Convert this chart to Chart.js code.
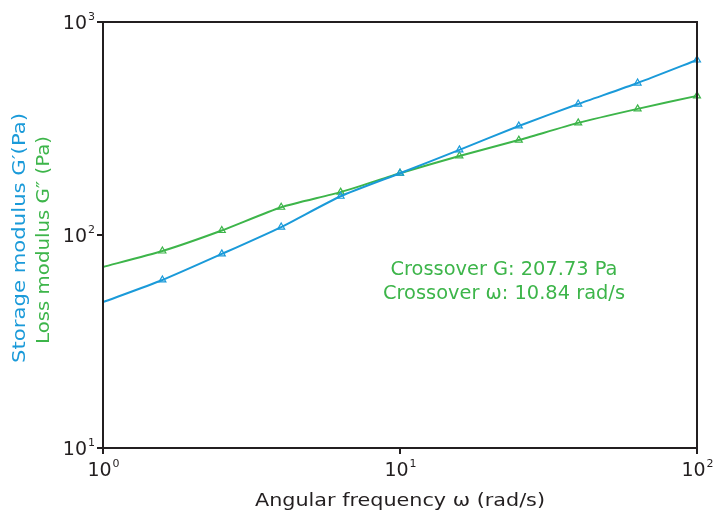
<!DOCTYPE html>
<html lang="en">
<head>
<meta charset="UTF-8">
<title>Frequency sweep</title>
<script src="https://cdn.jsdelivr.net/npm/chart.js@4/dist/chart.umd.min.js"></script>
<style>
  body { margin: 0; background: #fff; }
  canvas { display: block; }
</style>
</head>
<body>
<canvas id="sweep" width="715" height="512"></canvas>
<script>
    // angular frequency (rad/s), moduli (Pa)
    const omega = [1, 1.585, 2.512, 3.981, 6.31, 10, 15.85, 25.12, 39.81, 63.1, 100]
    const storageG = [48.4, 61.5, 81.5, 109, 152, 195, 251, 325, 412, 517, 663]
    const lossG = [70.8, 84.1, 105, 135, 159, 195, 235, 279, 336, 391, 450]
    const xTicks = [1, 10, 100]
    const yTicks = [10, 100, 1000]
    const crossoverText = ["Crossover G: 207.73 Pa", "Crossover \u03c9: 10.84 rad/s"]

    const blue = "#1a9ad9"
    const green = "#3db54a"
    const ink = "#231f20"
    const font = "'DejaVu Sans', 'Liberation Sans', sans-serif"

    // first point sits on the axis without a marker
    const radii = omega.map((w, i) => i === 0 ? 0 : 4)

    function series(label, vals, color) {
        return {
            label: label,
            data: omega.map((w, i) => ({x: w, y: vals[i]})),
            borderColor: color,
            borderWidth: 2,
            backgroundColor: "rgba(0,0,0,0)",
            pointStyle: "triangle",
            pointRadius: radii,
            pointBorderWidth: 1.2,
            pointBorderColor: color,
            tension: 0.2,
            clip: false
        }
    }

    // the original face is a wide geometric one, so stretch text to its measured width
    function fitText(ctx, text, x, y, width, size) {
        ctx.font = size + "px " + font
        let w = ctx.measureText(text).width
        ctx.save()
        ctx.translate(x, y)
        ctx.scale(width / w, 1)
        ctx.textAlign = "center"
        ctx.textBaseline = "middle"
        ctx.fillText(text, 0, 0)
        ctx.restore()
    }

    function drawPow(ctx, base, exp, x, y, align) {
        ctx.font = "19px " + font
        let bw = ctx.measureText(base).width
        ctx.font = "11px " + font
        let ew = ctx.measureText(exp).width
        let left = align === "right" ? x - bw - ew - 1 : x - (bw + ew) / 2
        ctx.textAlign = "left"
        ctx.textBaseline = "middle"
        ctx.font = "19px " + font
        ctx.fillText(base, left, y)
        ctx.font = "11px " + font
        ctx.fillText(exp, left + bw + 1, y - 7)
    }

    const decor = {
        id: "decor",
        afterDraw(chart) {
            let ctx = chart.ctx
            let a = chart.chartArea
            let xs = chart.scales.x, ys = chart.scales.y
            ctx.save()
            // box frame
            ctx.strokeStyle = ink
            ctx.lineWidth = 2
            ctx.strokeRect(a.left, a.top, a.right - a.left, a.bottom - a.top)

            // tick labels
            ctx.fillStyle = ink
            yTicks.forEach(v => {
                drawPow(ctx, "10", String(Math.round(Math.log10(v))), a.left - 8, ys.getPixelForValue(v) + 2, "right")
            })
            xTicks.forEach(v => {
                drawPow(ctx, "10", String(Math.round(Math.log10(v))), xs.getPixelForValue(v), a.bottom + 23, "center")
            })

            // axis titles
            fitText(ctx, "Angular frequency \u03c9 (rad/s)", 400, 501, 290, 18)

            ctx.save()
            ctx.translate(20, 238)
            ctx.rotate(-Math.PI / 2)
            ctx.fillStyle = blue
            fitText(ctx, "Storage modulus G\u2032(Pa)", 0, 0, 250, 18)
            ctx.restore()
            ctx.save()
            ctx.translate(44, 240)
            ctx.rotate(-Math.PI / 2)
            ctx.fillStyle = green
            fitText(ctx, "Loss modulus G\u2033 (Pa)", 0, 0, 208, 18)
            ctx.restore()

            // crossover note
            ctx.fillStyle = green
            fitText(ctx, crossoverText[0], 504, 270, 227, 19)
            fitText(ctx, crossoverText[1], 504, 294, 242, 19)
            ctx.restore()
        }
    }

    function onlyMajor(list) {
        return scale => { scale.ticks = list.map(v => ({value: v, major: true})) }
    }

    new Chart("sweep", {
        type: "line",
        data: {
            datasets: [
                series("Storage modulus G'", storageG, blue),
                series("Loss modulus G''", lossG, green)
            ]
        },
        options: {
            responsive: false,
            animation: false,
            layout: {padding: {top: 22, right: 18, left: 0, bottom: 0}},
            plugins: {legend: {display: false}, tooltip: {enabled: false}},
            scales: {
                x: {
                    type: "logarithmic",
                    min: 1, max: 100,
                    afterBuildTicks: onlyMajor(xTicks),
                    afterFit: s => { s.height = 64 },
                    ticks: {display: false},
                    grid: {drawOnChartArea: false, tickLength: 6, color: ink, lineWidth: 2},
                    border: {display: false}
                },
                y: {
                    type: "logarithmic",
                    min: 10, max: 1000,
                    afterBuildTicks: onlyMajor(yTicks),
                    afterFit: s => { s.width = 103 },
                    ticks: {display: false},
                    grid: {drawOnChartArea: false, tickLength: 6, color: ink, lineWidth: 2},
                    border: {display: false}
                }
            }
        },
        plugins: [decor]
    })
</script>
</body>
</html>
